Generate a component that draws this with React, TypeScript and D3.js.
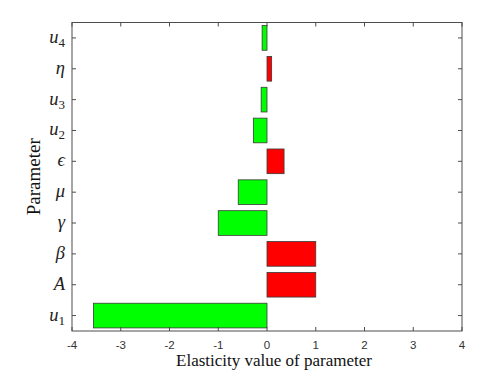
import React from "react";
import * as d3 from "d3";

const paramKeys = ["u1", "A", "β", "γ", "μ", "ϵ", "u2", "u3", "η", "u4"];
const values = [-3.56, 1.0, 1.0, -1.0, -0.59, 0.35, -0.28, -0.12, 0.095, -0.1];
const xTicks = [-4, -3, -2, -1, 0, 1, 2, 3, 4];

const W = 502, H = 376;
const left = 72, right = 462, top = 22.5, bottom = 331;

function Label({ k }: { k: string }) {
  const m = k.match(/^([a-z])(\d)$/);
  if (m) {
    return (
      <>
        <tspan fontStyle="italic">{m[1]}</tspan>
        <tspan fontSize={13} dy={4} fontStyle="normal">{m[2]}</tspan>
      </>
    );
  }
  return <tspan fontStyle="italic">{k}</tspan>;
}

export default function App() {
  const x = d3.scaleLinear().domain([-4, 4]).range([left, right]);
  const idx = d3.range(paramKeys.length).map(String);
  const y = d3.scaleBand().domain(idx).range([bottom, top]).paddingInner(0.2).paddingOuter(0.1);
  const axisColor = "#4d4d4d";
  return (
    <svg width={W} height={H} style={{ position: "absolute", left: 0, top: 0, background: "#fff" }}>
      {values.map((v, i) => {
        const x0 = x(Math.min(0, v));
        const x1 = x(Math.max(0, v));
        return (
          <rect key={i} x={x0} y={y(String(i))!} width={x1 - x0} height={y.bandwidth()}
            fill={v >= 0 ? "#ff0000" : "#00ff00"} stroke="#3a3a3a" strokeWidth={0.8} />
        );
      })}
      <rect x={left} y={top} width={right - left} height={bottom - top} fill="none" stroke={axisColor} strokeWidth={1} />
      {xTicks.map((t) => (
        <g key={t}>
          <line x1={x(t)} x2={x(t)} y1={bottom} y2={bottom - 4} stroke={axisColor} />
          <line x1={x(t)} x2={x(t)} y1={top} y2={top + 4} stroke={axisColor} />
          <text x={x(t)} y={bottom + 18} textAnchor="middle" fontFamily="Liberation Sans, Arial, sans-serif" fontSize={11.5} fill="#333">{t}</text>
        </g>
      ))}
      {paramKeys.map((k, i) => {
        const cy = y(String(i))! + y.bandwidth() / 2;
        return (
          <g key={k}>
            <line x1={left} x2={left + 4} y1={cy} y2={cy} stroke={axisColor} />
            <line x1={right} x2={right - 4} y1={cy} y2={cy} stroke={axisColor} />
            <text x={65} y={cy + 5} textAnchor="end" fontFamily="Liberation Serif, serif" fontSize={18.5} fill="#222">
              <Label k={k} />
            </text>
          </g>
        );
      })}
      <text x={(left + right) / 2 + 7} y={366} textAnchor="middle" fontFamily="Liberation Serif, serif" fontSize={17} fill="#111">Elasticity value of parameter</text>
      <text transform={`translate(40,${(top + bottom) / 2}) rotate(-90)`} textAnchor="middle" fontFamily="Liberation Serif, serif" fontSize={19} fill="#111">Parameter</text>
    </svg>
  );
}
